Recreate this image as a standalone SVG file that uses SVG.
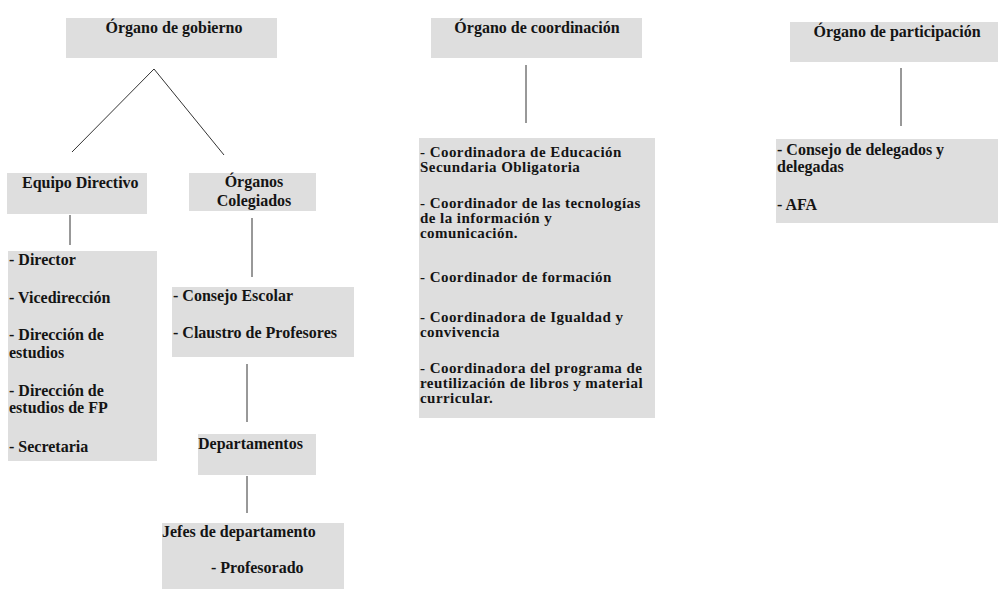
<svg xmlns="http://www.w3.org/2000/svg" width="998" height="589" viewBox="0 0 998 589">
<style>
.box{fill:#dedede;stroke:none}
text{font-family:"Liberation Serif","Times New Roman",serif;font-weight:bold;font-size:16px;fill:#141414}
.c{text-anchor:middle}
.t{font-size:15px;letter-spacing:0.45px}
.ln{stroke:#333;stroke-width:1;fill:none}
</style>
<rect width="998" height="589" fill="#fff"/>
<g id="connectors">
<polyline class="ln" points="72,152 154,69 224,155"/>
<line class="ln" x1="70" y1="215" x2="70" y2="245"/>
<line class="ln" x1="252" y1="218" x2="252" y2="277"/>
<line class="ln" x1="247" y1="364" x2="247" y2="422"/>
<line class="ln" x1="247" y1="476" x2="247" y2="513"/>
<line class="ln" x1="526" y1="65" x2="526" y2="123"/>
<line class="ln" x1="901" y1="68" x2="901" y2="126"/>
</g>
<g id="organo-gobierno">
<rect class="box" x="66" y="18" width="211" height="40"/>
<text class="c" x="174" y="33">Órgano de gobierno</text>
</g>
<g id="equipo-directivo">
<rect class="box" x="7" y="173" width="140" height="41"/>
<text x="22" y="188">Equipo Directivo</text>
</g>
<g id="organos-colegiados">
<rect class="box" x="189" y="173" width="127" height="38"/>
<text class="c" x="254" y="187">Órganos<tspan x="254" dy="19">Colegiados</tspan></text>
</g>
<g id="lista-directivo">
<rect class="box" x="8" y="251" width="149" height="210"/>
<text x="9" y="265">- Director</text>
<text x="9" y="303">- Vicedirección</text>
<text x="9" y="340">- Dirección de<tspan x="9" dy="18">estudios</tspan></text>
<text x="9" y="396">- Dirección de<tspan x="9" dy="17">estudios de FP</tspan></text>
<text x="9" y="452">- Secretaria</text>
</g>
<g id="consejo-claustro">
<rect class="box" x="172" y="287" width="182" height="70"/>
<text x="173" y="301">- Consejo Escolar</text>
<text x="173" y="338">- Claustro de Profesores</text>
</g>
<g id="departamentos">
<rect class="box" x="198" y="434" width="118" height="41"/>
<text x="198" y="449">Departamentos</text>
</g>
<g id="jefes">
<rect class="box" x="162" y="523" width="182" height="66"/>
<text x="162" y="537">Jefes de departamento</text>
<text x="211" y="573">- Profesorado</text>
</g>
<g id="organo-coordinacion">
<rect class="box" x="431" y="18" width="211" height="40"/>
<text class="c" x="537" y="33">Órgano de coordinación</text>
</g>
<g id="lista-coordinacion">
<rect class="box" x="419" y="138" width="236" height="280"/>
<text class="t" x="420" y="157">- Coordinadora de Educación<tspan x="420" dy="15">Secundaria Obligatoria</tspan></text>
<text class="t" x="420" y="208">- Coordinador de las tecnologías<tspan x="420" dy="15">de la información y</tspan><tspan x="420" dy="15">comunicación.</tspan></text>
<text class="t" x="420" y="282">- Coordinador de formación</text>
<text class="t" x="420" y="322">- Coordinadora de Igualdad y<tspan x="420" dy="15">convivencia</tspan></text>
<text class="t" x="420" y="373">- Coordinadora del programa de<tspan x="420" dy="15">reutilización de libros y material</tspan><tspan x="420" dy="15">curricular.</tspan></text>
</g>
<g id="organo-participacion">
<rect class="box" x="790" y="22" width="208" height="40"/>
<text class="c" x="897" y="37">Órgano de participación</text>
</g>
<g id="lista-participacion">
<rect class="box" x="776" y="139" width="222" height="84"/>
<text x="777" y="155">- Consejo de delegados y<tspan x="777" dy="17">delegadas</tspan></text>
<text x="777" y="210">- AFA</text>
</g>
</svg>
